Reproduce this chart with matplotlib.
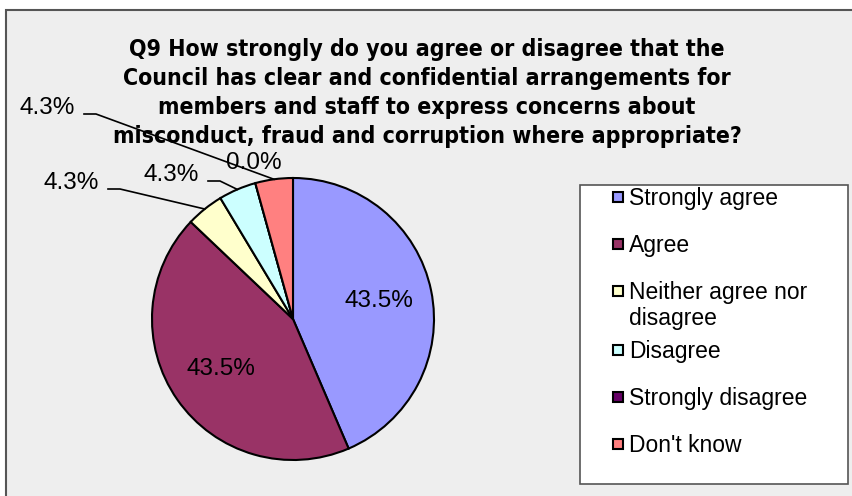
import numpy as np
import matplotlib as mpl
mpl.use('Agg')
import matplotlib.pyplot as plt
from matplotlib.patches import Rectangle

# survey answers, percent of respondents
categories = ['Strongly agree', 'Agree', 'Neither agree nor\ndisagree',
              'Disagree', 'Strongly disagree', "Don't know"]
percent = [43.5, 43.5, 4.3, 4.3, 0.0, 4.3]
colours = ['#9999FF', '#993366', '#FFFFCC', '#CCFFFF', '#660066', '#FF8080']
title = ('Q9 How strongly do you agree or disagree that the\n'
         'Council has clear and confidential arrangements for\n'
         'members and staff to express concerns about\n'
         'misconduct, fraud and corruption where appropriate?')

W, H = 852, 496
fig = plt.figure(figsize=(W / 100, H / 100), dpi=100, facecolor='white')
# axes in pixel units, y up
ax = fig.add_axes([0, 0, 1, 1])

# chart area
ax.add_patch(Rectangle((6, -20), W + 20, H - 10 + 20, facecolor='#EEEEEE',
                       edgecolor='#555555', linewidth=1.5, zorder=0))

cx, cy, R = 293, H - 319, 141
wedges, _ = ax.pie(percent, colors=colours, startangle=90, counterclock=False,
                   center=(cx, cy), radius=R, frame=True,
                   wedgeprops=dict(edgecolor='black', linewidth=1.5))
ax.set_xlim(0, W)
ax.set_ylim(0, H)
ax.set_aspect('equal')
ax.set_axis_off()

lab_font = dict(family='Liberation Sans', fontsize=17.5, color='black')

# label text position (pixels from top-left) for the small slices
outside = {2: (71, 183), 3: (171, 175), 4: (254, 163), 5: (47, 108)}
for i, (w, p) in enumerate(zip(wedges, percent)):
    mid = np.deg2rad((w.theta1 + w.theta2) / 2)
    txt = '%.1f%%' % p
    if i in outside:
        tx, ty = outside[i]
        ax.text(tx, H - ty, txt, ha='center', va='center', **lab_font)
        if p > 0:
            ex, ey = cx + R * np.cos(mid), cy + R * np.sin(mid)
            sx = tx + 37
            sy = H - ty - 6
            ax.plot([sx, sx + 12, ex], [sy, sy, ey], color='black',
                    linewidth=1.2, zorder=3)
    else:
        r = 0.62 * R
        ax.text(cx + r * np.cos(mid), cy + r * np.sin(mid), txt,
                ha='center', va='center', **lab_font)

ax.text(427, H - 93, title, ha='center', va='center', family='DejaVu Sans',
        fontstretch='condensed', fontweight='bold', fontsize=16.6,
        linespacing=1.33)

# legend box
ax.add_patch(Rectangle((580, H - 484), 268, 484 - 185, facecolor='white',
                       edgecolor='#555555', linewidth=1.2, zorder=2))
y = 197
for name, col in zip(categories, colours):
    ax.add_patch(Rectangle((613, H - y - 5), 10, 10, facecolor=col,
                           edgecolor='black', linewidth=1.5, zorder=3))
    ax.text(629, H - y + 10, name, ha='left', va='top', family='Liberation Sans',
            fontsize=16.5, linespacing=1.15, zorder=4)
    y += 47 + 12 * name.count('\n')

fig.savefig('out.png', dpi=100, facecolor='white')
